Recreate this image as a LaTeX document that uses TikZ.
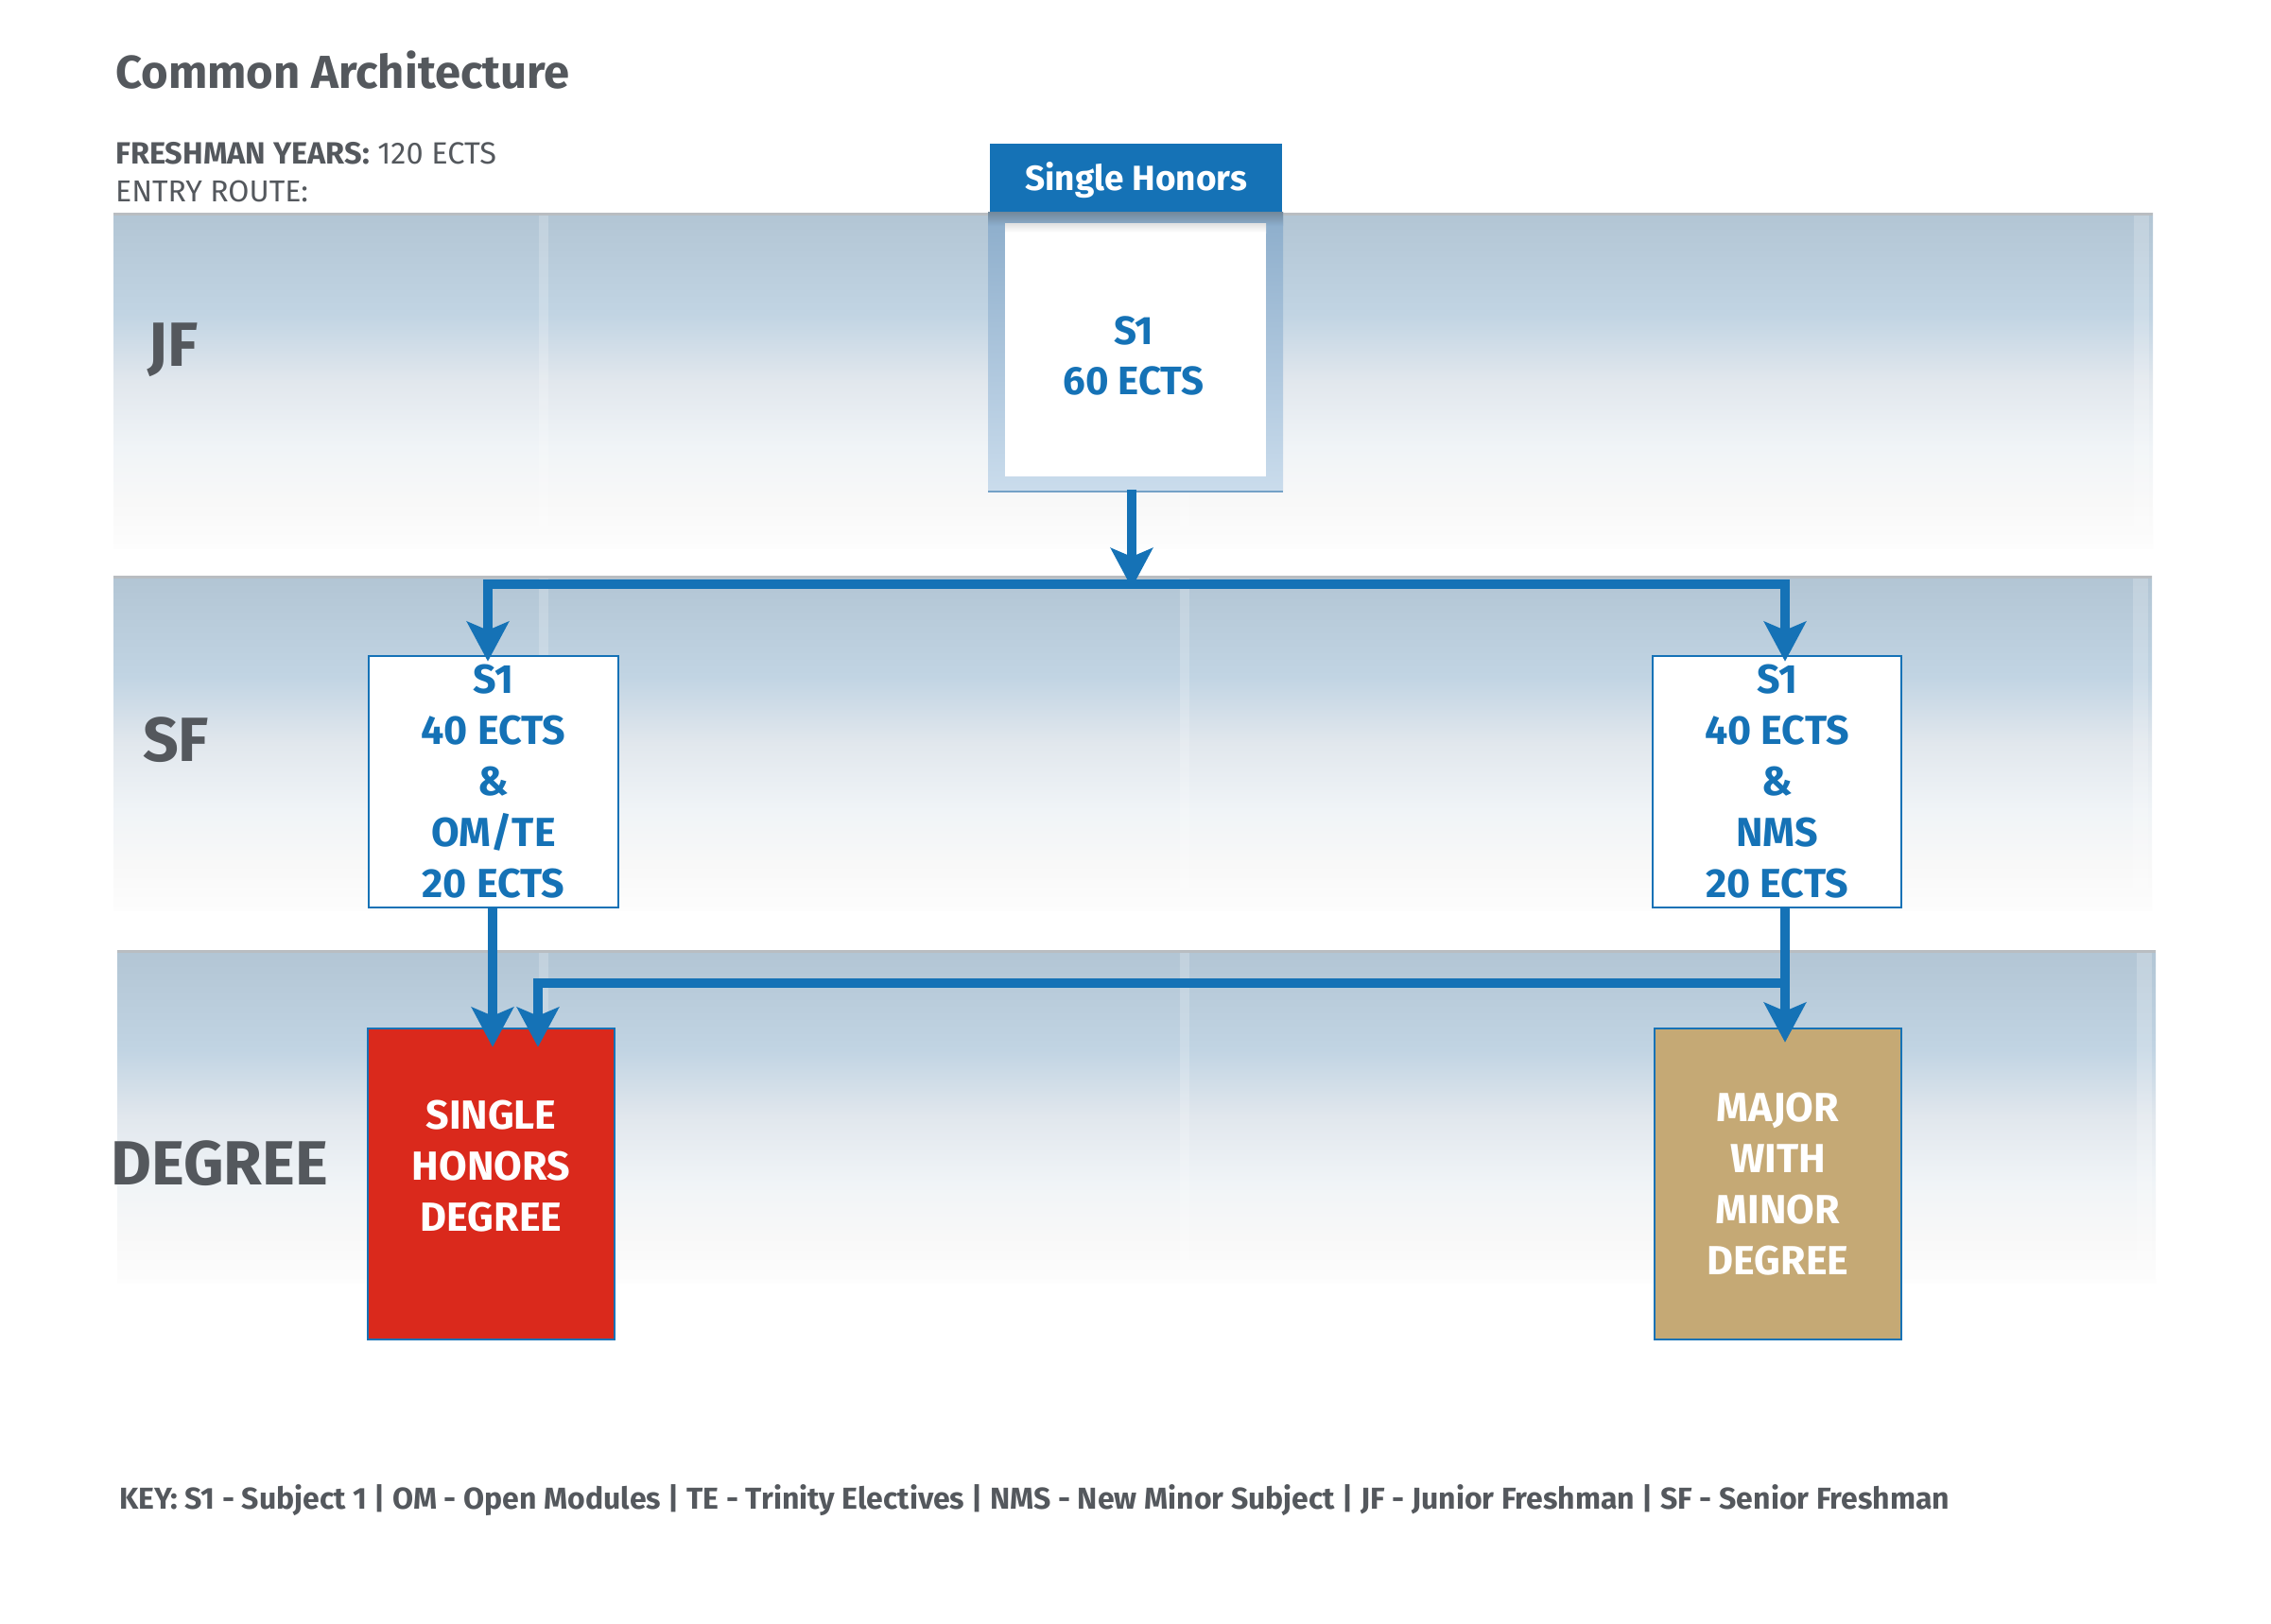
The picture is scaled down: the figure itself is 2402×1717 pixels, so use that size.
\documentclass[tikz,border=0pt]{standalone}
\usepackage{fontspec}
\setmainfont{Fira Sans}
\usetikzlibrary{arrows.meta,calc}
\definecolor{ublue}{HTML}{1572B6}
\definecolor{tgray}{HTML}{54585D}
\definecolor{ured}{HTML}{DA291C}
\definecolor{utan}{HTML}{C5A975}
\definecolor{bandA}{HTML}{B2C5D4}
\definecolor{bandB}{HTML}{C1D4E3}
\definecolor{bandC}{HTML}{E1E7ED}
\definecolor{bandD}{HTML}{F0F4F7}
\definecolor{bandE}{HTML}{F8F8F8}
\definecolor{bandF}{HTML}{FDFDFD}
\definecolor{frameT}{HTML}{8CADCB}
\definecolor{frameB}{HTML}{CADCEC}
\definecolor{frameS}{HTML}{72889B}
\definecolor{edgegray}{HTML}{B9BDC1}
\pgfdeclareverticalshading{bandshade}{100bp}{color(0bp)=(bandF); color(25bp)=(bandF); color(32bp)=(bandE); color(40bp)=(bandD); color(50bp)=(bandC); color(60bp)=(bandB); color(75bp)=(bandA); color(100bp)=(bandA)}
\begin{document}
\begin{tikzpicture}[x=1pt,y=-1pt,
  tipend/.style={-{Stealth[length=42pt,width=44pt,inset=9pt]}},
  conn/.style={draw=ublue,line width=10pt},
  rowlbl/.style={anchor=base west,inner sep=0,text=tgray,font=\bfseries\fontsize{66}{72}\selectfont},
  sfbox/.style={draw=ublue,line width=2.5pt,fill=white,minimum width=264pt,minimum height=266pt,inner sep=0,align=center,text=ublue,font=\bfseries\fontsize{43}{54}\selectfont},
  dgbox/.style={draw=ublue,line width=2.5pt,minimum width=261pt,minimum height=329pt,inner sep=0,align=center,text=white,font=\bfseries\fontsize{43}{54}\selectfont},
  dgtext/.style={align=center,text=white,inner sep=0,font=\bfseries\fontsize{43}{54}\selectfont},
  seam/.style={fill=white,opacity=0.2},
  edge/.style={draw=edgegray,line width=3pt}
]
\useasboundingbox (0,0) rectangle (2402,1717);
\fill[white] (0,0) rectangle (2402,1717);

% bands
\shade[shading=bandshade] (120,225) rectangle (2277,580);
\shade[shading=bandshade] (120,609) rectangle (2276,963);
\shade[shading=bandshade] (124,1005) rectangle (2280,1357);
\draw[edge] (120,226.5) -- (2277,226.5);
\draw[edge] (120,610.5) -- (2276,610.5);
\draw[edge] (124,1006.5) -- (2280,1006.5);
\foreach \ya/\yb/\xr in {228/580/2277,612/963/2276,1008/1357/2280}{
  \fill[seam] (570,\ya) rectangle (580,\yb);
  \fill[seam] (1248,\ya) rectangle (1258,\yb);
  \fill[seam] (\xr-20,\ya) rectangle (\xr-4,\yb);
}

% header texts
\node[anchor=base west,inner sep=0,text=tgray,font=\bfseries\fontsize{49}{54}\selectfont] (title) at (122,93) {Common Architecture};
\node[anchor=base west,inner sep=0,text=tgray,font=\fontsize{32.5}{36}\selectfont] (fy) at (122,173) {\textbf{FRESHMAN YEARS:} 120 ECTS};
\node[anchor=base west,inner sep=0,text=tgray,font=\fontsize{32}{36}\selectfont] (er) at (122,213) {ENTRY ROUTE:};

% row labels
\node[rowlbl] (jfl) at (156,387) {JF};
\node[rowlbl] (sfl0) at (151,805) {SF};
\node[rowlbl] (dgl) at (117,1253) {DEGREE};

% JF entry box
\node[fill=ublue,minimum width=309pt,minimum height=72pt,inner sep=0,text height=26pt,text depth=0pt,text=white,font=\bfseries\fontsize{37}{42}\selectfont] (hdr) at (1201.5,188) {Single Honors};
\shade[top color=frameT,bottom color=frameB] (1045,224) rectangle (1357,520);
\shade[top color=frameS,bottom color=frameT] (1045,224) rectangle (1357,238);
\fill[white] (1063,236) rectangle (1339,504);
\shade[top color=black!12,bottom color=white] (1063,236) rectangle (1339,246);
\draw[draw=frameT!80!ublue,line width=1.5pt] (1045,520) -- (1357,520);
\node[minimum width=312pt,minimum height=296pt,inner sep=0,align=center,text=ublue,font=\bfseries\fontsize{42}{53}\selectfont] (jf) at (1199,376) {S1\\60 ECTS};

% SF boxes
\node[sfbox] (sfl) at (522,827) {S1\\40 ECTS\\\&\\OM/TE\\20 ECTS};
\node[sfbox,minimum width=263pt] (sfr) at (1879.5,827) {S1\\40 ECTS\\\&\\NMS\\20 ECTS};

% degree boxes
\node[dgbox,fill=ured,label={[dgtext,name=shdtext,yshift=19pt]center:SINGLE\\HONORS\\DEGREE}] (shd) at (519.5,1252.5) {};
\node[dgbox,fill=utan] (mwm) at (1880.5,1252.5) {MAJOR\\WITH\\MINOR\\DEGREE};

% connectors
\coordinate (j1) at (1197,618);
\coordinate (j2) at (1888,1040);
\draw[conn,tipend] ([xshift=-2pt,yshift=6pt]jf.south) -- ([yshift=-4pt]j1);
\draw[conn,tipend] (j1) -| ([xshift=-6pt,yshift=-7pt]sfl.north);
\draw[conn,tipend] (j1) -| ([xshift=8.5pt,yshift=-7pt]sfr.north);
\draw[conn,tipend] ([xshift=-1pt]sfl.south) -- ([xshift=1.5pt,yshift=-21pt]shd.north);
\draw[conn,tipend] ([xshift=8.5pt]sfr.south) -- ([xshift=7.5pt,yshift=-16pt]mwm.north);
\draw[conn,tipend] (j2) -| ([xshift=49.5pt,yshift=-21pt]shd.north);

% key
\node[anchor=base west,inner sep=0,text=tgray,font=\bfseries\fontsize{32}{36}\selectfont] (key) at (126,1596) {KEY: S1 - Subject 1 | OM - Open Modules | TE - Trinity Electives | NMS - New Minor Subject | JF - Junior Freshman | SF - Senior Freshman};
\end{tikzpicture}
\end{document}
